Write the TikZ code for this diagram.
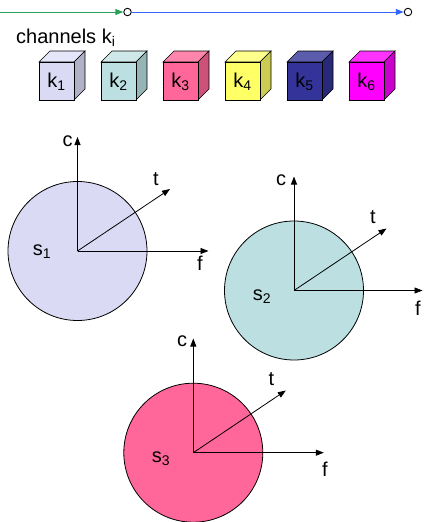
\documentclass[tikz,border=0pt]{standalone}
\usepackage{fontspec}
\setmainfont{Liberation Sans}
\usetikzlibrary{arrows.meta}
\definecolor{lnGreen}{RGB}{40,160,90}
\definecolor{lnBlue}{RGB}{51,102,255}
\definecolor{fillA}{RGB}{218,218,245}
\definecolor{fillB}{RGB}{188,224,226}
\definecolor{fillC}{RGB}{255,102,153}
\definecolor{topA}{RGB}{230,230,250}
\definecolor{sideA}{RGB}{176,176,198}
\definecolor{topB}{RGB}{206,232,234}
\definecolor{sideB}{RGB}{150,180,181}
\definecolor{topC}{RGB}{255,133,173}
\definecolor{sideC}{RGB}{204,82,122}
\definecolor{fillD}{RGB}{255,255,102}
\definecolor{topD}{RGB}{255,255,140}
\definecolor{sideD}{RGB}{204,204,82}
\definecolor{fillE}{RGB}{51,51,153}
\definecolor{topE}{RGB}{92,92,173}
\definecolor{sideE}{RGB}{41,41,122}
\definecolor{fillF}{RGB}{255,0,255}
\definecolor{topF}{RGB}{255,51,255}
\definecolor{sideF}{RGB}{204,0,204}
\tikzset{
  lbl/.style={inner sep=0pt, font=\fontsize{20}{24}\selectfont},
  axis/.style={line width=0.8pt, -{Triangle[length=8pt,width=6pt]}},
  disc/.style={draw=black, line width=0.8pt},
  endpt/.style={circle, draw=black, fill=white, line width=0.9pt, minimum size=7.5pt, inner sep=0pt},
  flow/.style={line width=1pt, -{Triangle[length=8pt,width=6pt]}},
  cubeedge/.style={draw=black, line width=0.6pt}
}
\newcommand{\drawcubeat}[6]{%
  % #1 x of front-left, #2 front, #3 top, #4 side, #5 index, #6 node name
  \filldraw[cubeedge, fill=#3] (#1,62) -- ++(11,-11) -- ++(35,0) -- ++(-11,11) -- cycle;
  \filldraw[cubeedge, fill=#4] (#1+35,62) -- ++(11,-11) -- ++(0,38) -- ++(-11,11) -- cycle;
  \filldraw[cubeedge, fill=#2] (#1,62) rectangle ++(35,38);
  \node[lbl] (#6) at (#1+17.5,81.5) {k\textsubscript{#5}};
}
\begin{document}
\begin{tikzpicture}[x=1pt,y=-1pt]
\useasboundingbox (0,0) rectangle (423,522);

% top line
\coordinate (lstart) at (0,12);
\node[endpt] (o1) at (127.5,12) {};
\node[endpt] (o2) at (408,12) {};
\draw[flow, lnGreen] (lstart) -- (o1.west);
\draw[flow, lnBlue] (o1.east) -- (o2.west);

% channels
\node[lbl, anchor=base west] (chan) at (16,43) {channels k\textsubscript{i}};
\drawcubeat{39}{fillA}{topA}{sideA}{1}{k1}
\drawcubeat{101}{fillB}{topB}{sideB}{2}{k2}
\drawcubeat{163}{fillC}{topC}{sideC}{3}{k3}
\drawcubeat{225}{fillD}{topD}{sideD}{4}{k4}
\drawcubeat{287}{fillE}{topE}{sideE}{5}{k5}
\drawcubeat{349}{fillF}{topF}{sideF}{6}{k6}

% sphere 1
\coordinate (s1o) at (77.5,251);
\filldraw[disc, fill=fillA] (s1o) circle[radius=69.5pt];
\coordinate (s1c) at (77.5,137);
\coordinate (s1t) at (170,189);
\coordinate (s1f) at (208.5,251);
\draw[axis] (s1o) -- (s1c);
\draw[axis] (s1o) -- (s1t);
\draw[axis] (s1o) -- (s1f);
\node[lbl] (c1) at (67.5,141) {c};
\node[lbl] (t1) at (156,179.5) {t};
\node[lbl] (f1) at (200,263) {f};
\node[lbl] (n1) at (42,252) {s\textsubscript{1}};

% sphere 2
\coordinate (s2o) at (294,290.5);
\filldraw[disc, fill=fillB] (s2o) circle[radius=69.5pt];
\coordinate (s2c) at (294,176.5);
\coordinate (s2t) at (386.5,228.5);
\coordinate (s2f) at (422.5,290.5);
\draw[axis] (s2o) -- (s2c);
\draw[axis] (s2o) -- (s2t);
\draw[axis] (s2o) -- (s2f);
\node[lbl] (c2) at (281,180) {c};
\node[lbl] (t2) at (373,217) {t};
\node[lbl] (f2) at (418,308) {f};
\node[lbl] (n2) at (262,297) {s\textsubscript{2}};

% sphere 3
\coordinate (s3o) at (193.3,452.7);
\filldraw[disc, fill=fillC] (s3o) circle[radius=69.5pt];
\coordinate (s3c) at (193.3,338.5);
\coordinate (s3t) at (285.8,390.5);
\coordinate (s3f) at (323.8,452.7);
\draw[axis] (s3o) -- (s3c);
\draw[axis] (s3o) -- (s3t);
\draw[axis] (s3o) -- (s3f);
\node[lbl] (c3) at (182,341) {c};
\node[lbl] (t3) at (271.5,379.5) {t};
\node[lbl] (f3) at (325,469) {f};
\node[lbl] (n3) at (161,459) {s\textsubscript{3}};
\end{tikzpicture}
\end{document}
